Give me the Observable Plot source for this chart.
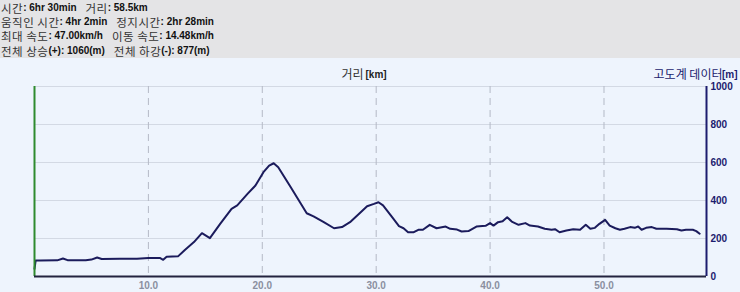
<!DOCTYPE html>
<html><head><meta charset="utf-8">
<script src="https://cdn.jsdelivr.net/npm/d3@7"></script>
<script src="https://cdn.jsdelivr.net/npm/@observablehq/plot@0.6"></script>
<style>
html,body{margin:0;padding:0;width:740px;height:292px;overflow:hidden;background:#eef4fd;}
#hdr{background:#e4e4e6;height:58px;box-sizing:border-box;padding:1px 0 0 1px;color:#111;}
#hdr div{height:14.2px;white-space:nowrap;overflow:visible;}
#hdr span{display:inline-block;height:14px;line-height:14px;vertical-align:top;overflow:visible;}
.k{font-family:"Noto Sans CJK KR","Noto Sans",sans-serif;font-size:11.5px;color:#333;letter-spacing:0.5px;}
.b{font-family:"Liberation Sans",Arial,sans-serif;font-weight:bold;font-size:10px;color:#111;}
#hdr span.g{width:9px;}
#chart{background:#eef4fd;height:234px;}
</style></head>
<body>
<div id="hdr">
<div><span class="k">시간</span><span class="b">: 6hr 30min</span><span class="g"></span><span class="k">거리</span><span class="b">: 58.5km</span></div>
<div><span class="k">움직인 시간</span><span class="b">: 4hr 2min</span><span class="g"></span><span class="k">정지시간</span><span class="b">: 2hr 28min</span></div>
<div><span class="k">최대 속도</span><span class="b">: 47.00km/h</span><span class="g"></span><span class="k">이동 속도</span><span class="b">: 14.48km/h</span></div>
<div><span class="k">전체 상승</span><span class="b">(+): 1060(m)</span><span class="g"></span><span class="k">전체 하강</span><span class="b">(-): 877(m)</span></div>
</div>
<div id="chart"></div>
<script>
const km = [0.0, 0.1, 0.5, 2.0, 2.5, 2.9, 4.5, 5.0, 5.5, 5.9, 7.5, 9.0, 10.0, 11.0, 11.3, 11.6, 12.6,
  13.2, 14.0, 14.7, 15.4, 16.3, 17.3, 17.8, 18.7, 19.4, 20.1, 20.6, 21.0, 21.4, 22.5, 23.9, 24.5, 25.4, 26.3,
  27.0, 27.7, 28.5, 29.2, 29.8, 30.2, 30.6, 31.4, 32.0, 32.4, 32.8, 33.3, 33.7, 34.1, 34.7, 35.3, 36.1, 36.5,
  37.1, 37.5, 38.1, 38.8, 39.6, 40.0, 40.3, 40.7, 41.1, 41.5, 41.9, 42.5, 43.1, 43.5, 44.2, 44.8, 45.4, 45.7,
  46.1, 46.7, 47.3, 47.9, 48.4, 48.8, 49.2, 49.6, 50.1, 50.5, 51.0, 51.4, 51.8, 52.3, 52.7, 53.0, 53.3, 53.7,
  54.2, 54.6, 55.5, 56.4, 56.8, 57.2, 57.8, 58.1, 58.4];
const elev = [40, 84, 84, 85, 95, 86, 85, 89, 100, 92, 93, 94, 97, 98, 88, 104, 106,
  140, 181, 228, 202, 277, 356, 374, 435, 479, 549, 584, 596, 575, 470, 333, 316, 286, 254,
  260, 286, 330, 370, 382, 391, 374, 312, 265, 254, 233, 233, 246, 246, 272, 254, 263, 251,
  247, 237, 239, 263, 267, 281, 268, 286, 291, 312, 289, 272, 281, 268, 263, 251, 246, 249,
  233, 242, 249, 246, 272, 251, 256, 277, 298, 268, 254, 246, 251, 260, 256, 263, 246, 256,
  260, 251, 251, 249, 242, 246, 246, 239, 225];
const xTicks = [10, 20, 30, 40, 50];
const yTicks = [0, 200, 400, 600, 800, 1000];
const xTitle = ["거리", "[km]"];
const yTitle = ["고도계 데이터", "[m]"];

const data = km.map((d, i) => ({km: d, elev: elev[i]}));
const navy = "#1c1c6e";

const chart = Plot.plot({
  width: 740, height: 234,
  marginTop: 28, marginBottom: 16, marginLeft: 34, marginRight: 34,
  style: {background: "transparent", fontFamily: "'Liberation Sans', Arial, sans-serif", fontSize: "10px"},
  x: {domain: [0, 59]},
  y: {domain: [0, 1000]},
  marks: [
    Plot.gridY(yTicks.filter(d => d > 0), {stroke: "#d3d9e4", strokeOpacity: 1}),
    Plot.gridX(xTicks, {stroke: "#b4b9c6", strokeOpacity: 1, strokeDasharray: "7,5"}),
    Plot.line(data, {x: "km", y: "elev", stroke: "#1b1b5c", strokeWidth: 2}),
    Plot.ruleX([0], {stroke: "#2e8b2e", strokeWidth: 2}),
    Plot.ruleY([0], {stroke: "#23233f", strokeWidth: 2}),
    Plot.ruleX([59], {stroke: navy, strokeWidth: 2}),
    Plot.axisY(yTicks, {anchor: "right", tickSize: 0, tickPadding: 4, tickFormat: d => String(d), fill: navy, fontWeight: "bold", label: null}),
    Plot.axisX(xTicks, {anchor: "bottom", tickSize: 0, tickPadding: 5, tickFormat: d => d.toFixed(1), fill: "#8a8fa0", fontWeight: "bold", label: null}),
    Plot.text([xTitle[0]], {text: d => d, frameAnchor: "top", dy: -16, dx: -7, textAnchor: "end", fill: "#333", fontFamily: "'Noto Sans CJK KR', sans-serif", fontSize: 12}),
    Plot.text([xTitle[1]], {text: d => d, frameAnchor: "top", dy: -16, dx: -5, textAnchor: "start", fill: "#222", fontWeight: "bold", fontSize: 10}),
    Plot.text([yTitle[0]], {text: d => d, frameAnchor: "top-right", dy: -16, dx: 16, textAnchor: "end", fill: navy, fontFamily: "'Noto Sans CJK KR', sans-serif", fontSize: 12}),
    Plot.text([yTitle[1]], {text: d => d, frameAnchor: "top-right", dy: -16, dx: 31, textAnchor: "end", fill: navy, fontWeight: "bold", fontSize: 10})
  ]
});
document.getElementById("chart").appendChild(chart);
</script>
</body></html>
